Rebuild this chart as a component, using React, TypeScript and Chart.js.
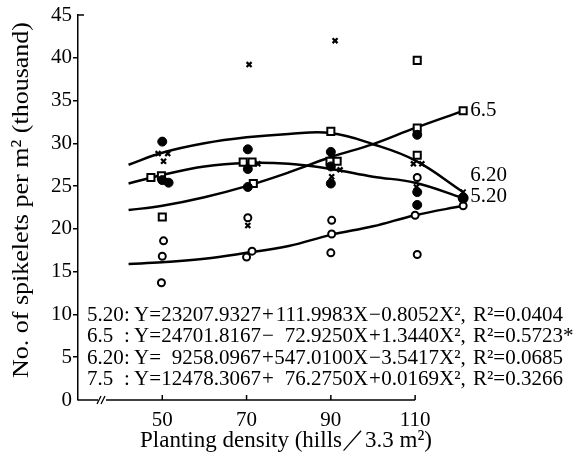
import { useEffect, useRef } from 'react';
import { Chart, registerables } from 'chart.js';

Chart.register(...registerables);

// ---- axis data ----
const xTicks = [50, 70, 90, 110];
const xMin = 30;
const xAxisEnd = 110;
const xMax = 121.6;
const yMin = 0;
const yMax = 45;
const yStep = 5;
const breakAt = 35.7;

// ---- observations (x, y in thousand spikelets / m2) ----
const filled520X = [50, 50, 51.5, 70.3, 70.3, 70.3, 90, 90, 90, 110.5, 110.5, 110.5];
const filled520Y = [30.2, 25.7, 25.4, 29.3, 27.0, 24.9, 29.0, 27.3, 25.3, 31.0, 24.3, 22.8];

const square65X = [47.3, 49.8, 50, 69.2, 71.3, 71.6, 90, 89.8, 91.5, 110.5, 110.5, 110.5];
const square65Y = [26.0, 26.2, 21.4, 27.8, 27.8, 25.3, 31.4, 27.9, 27.9, 39.7, 31.8, 28.6];

const cross620X = [49, 51.3, 50.3, 70.6, 72.7, 70.3, 91, 92.2, 90.2, 109.6, 111.6, 110.3];
const cross620Y = [28.8, 28.8, 27.9, 39.2, 27.6, 20.4, 42.0, 26.9, 26.1, 27.6, 27.6, 24.9];

const open75X = [50.3, 50, 49.8, 70.3, 70, 71.3, 90.2, 90.2, 90, 110.5, 110, 110.5];
const open75Y = [18.6, 16.8, 13.7, 21.3, 16.7, 17.4, 21.0, 19.4, 17.2, 26.0, 21.6, 17.0];

// ---- fitted curves ----
const curveX = [42, 50, 60, 70, 80, 90, 100, 110, 121.4];
const curve620Y = [27.5, 28.9, 30.0, 30.7, 31.1, 31.2, 29.9, 28.0, 24.3];
const curve520Y = [25.3, 26.3, 27.3, 27.7, 27.6, 27.0, 26.1, 25.4, 23.6];
const curve65Y = [22.2, 22.7, 23.7, 25.0, 26.6, 28.4, 29.9, 31.8, 33.8];
const curve75Y = [15.9, 16.1, 16.5, 17.2, 18.0, 19.3, 20.3, 21.6, 22.7];

// ---- curve end labels ----
const endLabels = ['6.5', '6.20', '5.20'];
const endLabelY = [33.8, 26.2, 23.8];

// ---- regression equations ----
const eqNames = ['5.20', '6.5', '6.20', '7.5'];
const eqConst = ['23207.9327', '24701.8167', '9258.0967', '12478.3067'];
const eqSign1 = ['+', '\u2212', '+', '+'];
const eqCoef1 = ['111.9983', '72.9250', '547.0100', '76.2750'];
const eqSign2 = ['\u2212', '+', '\u2212', '+'];
const eqCoef2 = ['0.8052', '1.3440', '3.5417', '0.0169'];
const eqR2 = ['0.0404', '0.5723*', '0.0685', '0.3266'];
const eqRowY = [10, 7.5, 5, 2.5];

const SERIF = '"Liberation Serif", "DejaVu Serif", serif';

const toPts = (xs: number[], ys: number[]) => xs.map((v, i) => ({ x: v, y: ys[i] }));
const endRadius = (n: number, r: number) => curveX.map((_, i) => (i === n - 1 ? r : 0));

function drawFit(ctx: CanvasRenderingContext2D, text: string, cx: number, cy: number, width: number, rot: number) {
  ctx.save();
  ctx.translate(cx, cy);
  ctx.rotate(rot);
  const w = ctx.measureText(text).width;
  ctx.scale(width / w, 1);
  ctx.textAlign = 'center';
  ctx.textBaseline = 'middle';
  ctx.fillText(text, 0, 0);
  ctx.restore();
}

const decor = {
  id: 'decor',
  afterDraw(chart: any) {
    const { ctx, chartArea: ca, scales } = chart;
    const x = scales.x;
    const y = scales.y;
    ctx.save();
    ctx.strokeStyle = '#000';
    ctx.fillStyle = '#000';
    ctx.lineWidth = 1.5;
    // x axis line (ends at last tick)
    const xEnd = x.getPixelForValue(xAxisEnd);
    ctx.beginPath();
    ctx.moveTo(ca.left, ca.bottom);
    ctx.lineTo(xEnd, ca.bottom);
    ctx.stroke();
    // top hook of y axis
    const yTop = y.getPixelForValue(yMax);
    ctx.beginPath();
    ctx.moveTo(ca.left, yTop);
    ctx.lineTo(ca.left + 6, yTop);
    ctx.stroke();
    // inward x ticks
    xTicks.forEach((v) => {
      const px = x.getPixelForValue(v);
      ctx.beginPath();
      ctx.moveTo(px, ca.bottom);
      ctx.lineTo(px, ca.bottom - 5);
      ctx.stroke();
    });
    // axis break
    const bx = x.getPixelForValue(breakAt);
    ctx.fillStyle = '#fff';
    ctx.fillRect(bx - 4, ca.bottom - 2, 8, 4);
    ctx.fillStyle = '#000';
    ctx.lineWidth = 1.3;
    ctx.beginPath();
    ctx.moveTo(bx - 5, ca.bottom + 4);
    ctx.lineTo(bx - 1, ca.bottom - 4);
    ctx.moveTo(bx - 1, ca.bottom + 4);
    ctx.lineTo(bx + 3, ca.bottom - 4);
    ctx.stroke();

    // end labels
    ctx.font = `21px ${SERIF}`;
    ctx.textBaseline = 'middle';
    ctx.textAlign = 'left';
    const ex = x.getPixelForValue(curveX[curveX.length - 1]) + 7;
    endLabels.forEach((t, i) => {
      ctx.fillText(t, ex, y.getPixelForValue(endLabelY[i]));
    });

    // equations
    ctx.font = `21px ${SERIF}`;
    eqNames.forEach((nm, i) => {
      const py = y.getPixelForValue(eqRowY[i]) + 1;
      ctx.textAlign = 'left';
      ctx.fillText(nm, 87, py);
      ctx.fillText(':', 124, py);
      ctx.fillText('Y=', 134, py);
      ctx.textAlign = 'right';
      ctx.fillText(eqConst[i], 261, py);
      ctx.textAlign = 'left';
      ctx.fillText(eqSign1[i], 262, py);
      ctx.textAlign = 'right';
      ctx.fillText(eqCoef1[i], 353, py);
      ctx.textAlign = 'left';
      ctx.fillText('X', 353, py);
      ctx.fillText(eqSign2[i], 369, py);
      ctx.textAlign = 'right';
      ctx.fillText(eqCoef2[i], 439, py);
      ctx.textAlign = 'left';
      ctx.fillText('X\u00b2,', 439, py);
      ctx.fillText('R\u00b2=' + eqR2[i], 473, py);
    });

    // axis titles
    ctx.font = `24px ${SERIF}`;
    drawFit(ctx, 'No. of spikelets per m\u00b2 (thousand)', 22, 200, 356, -Math.PI / 2);
    drawFit(ctx, 'Planting density (hills\uff0f3.3 m\u00b2)', 286, 441, 292, 0);
    ctx.restore();
  },
};

export default function App() {
  const ref = useRef<HTMLCanvasElement | null>(null);
  useEffect(() => {
    if (!ref.current) return;
    const font = { family: SERIF, size: 21 };
    const curve = (ys: number[], style: string, r: number, bg: string) => ({
      data: toPts(curveX, ys),
      showLine: true,
      tension: 0.4,
      borderColor: '#000',
      borderWidth: 2.5,
      pointRadius: endRadius(curveX.length, r),
      pointStyle: style,
      pointBackgroundColor: bg,
      pointBorderColor: '#000',
      pointBorderWidth: 2,
      clip: false,
      order: 2,
    });
    const marks = (xs: number[], ys: number[], style: string, r: number, bg: string, bw: number) => ({
      data: toPts(xs, ys),
      showLine: false,
      pointStyle: style,
      pointRadius: r,
      pointBackgroundColor: bg,
      pointBorderColor: '#000',
      pointBorderWidth: bw,
      clip: false,
      order: 1,
    });
    const chart = new Chart(ref.current, {
      type: 'scatter',
      data: {
        datasets: [
          curve(curve620Y, 'crossRot', 3.5, '#000'),
          curve(curve520Y, 'circle', 4.5, '#000'),
          curve(curve65Y, 'rect', 5, '#fff'),
          curve(curve75Y, 'circle', 3.5, '#fff'),
          marks(filled520X, filled520Y, 'circle', 4.5, '#000', 1),
          marks(open75X, open75Y, 'circle', 3.5, '#fff', 2),
          marks(square65X, square65Y, 'rect', 5, '#fff', 2),
          marks(cross620X, cross620Y, 'crossRot', 3.5, '#000', 2.2),
        ] as any,
      },
      options: {
        responsive: false,
        animation: false,
        devicePixelRatio: 1,
        layout: { padding: { top: 15, right: 113, left: 0, bottom: 0 } },
        plugins: { legend: { display: false }, tooltip: { enabled: false } },
        scales: {
          x: {
            type: 'linear',
            min: xMin,
            max: xMax,
            afterFit: (s: any) => {
              s.height = 65;
            },
            afterBuildTicks: (s: any) => {
              s.ticks = xTicks.map((v) => ({ value: v }));
            },
            ticks: { font, color: '#000', padding: 8, maxRotation: 0, autoSkip: false },
            grid: { display: false, drawOnChartArea: false, drawTicks: false },
            border: { display: false },
          },
          y: {
            min: yMin,
            max: yMax,
            afterFit: (s: any) => {
              s.width = 78;
            },
            ticks: { stepSize: yStep, font, color: '#000', padding: 1 },
            grid: {
              drawOnChartArea: false,
              drawTicks: true,
              tickLength: 5,
              lineWidth: 1.5,
              color: (c: any) =>
                c.tick && (c.tick.value === yMin || c.tick.value === yMax) ? 'rgba(0,0,0,0)' : '#000',
            },
            border: { display: true, color: '#000', width: 1.5 },
          },
        },
      } as any,
      plugins: [decor],
    });
    return () => chart.destroy();
  }, []);
  return (
    <div style={{ position: 'absolute', left: 0, top: 0, width: 577, height: 465, background: '#fff' }}>
      <canvas ref={ref} width={577} height={465} style={{ display: 'block' }} />
    </div>
  );
}
